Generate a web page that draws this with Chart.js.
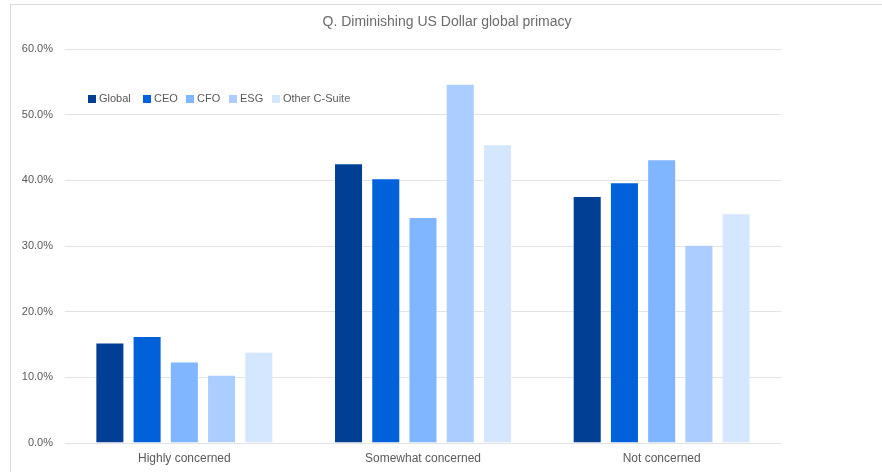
<!DOCTYPE html>
<html>
<head>
<meta charset="utf-8">
<script src="https://cdn.jsdelivr.net/npm/chart.js@4/dist/chart.umd.min.js"></script>
<style>
  html, body { margin: 0; padding: 0; background: #fff; overflow: hidden; }
  #frame { position: absolute; left: 10px; top: 4px; width: 900px; height: 500px; border: 1px solid #d9d9d9; box-sizing: border-box; }
  #wrap { position: absolute; left: 0; top: 0; width: 882px; height: 472px; }
</style>
</head>
<body>
<div id="frame"></div>
<div id="wrap"><canvas id="c" width="882" height="472"></canvas></div>
<script>
const categories = ["Highly concerned", "Somewhat concerned", "Not concerned"];
const seriesNames = ["Global", "CEO", "CFO", "ESG", "Other C-Suite"];
const globalVals = [15.3, 42.6, 37.6];
const ceoVals    = [16.3, 40.3, 39.7];
const cfoVals    = [12.4, 34.4, 43.2];
const esgVals    = [10.4, 54.7, 30.2];
const otherVals  = [13.9, 45.5, 35.0];
const colors = ["#003f94", "#0061db", "#80b5ff", "#abcdff", "#d5e6ff"];
const yTicks = [0, 10, 20, 30, 40, 50, 60];
const titleText = "Q. Diminishing US Dollar global primacy";

const allVals = [globalVals, ceoVals, cfoVals, esgVals, otherVals];
const datasets = seriesNames.map((n, i) => ({
  label: n,
  data: allVals[i],
  backgroundColor: colors[i],
  borderColor: "rgba(255,255,255,0.35)",
  borderWidth: 1,
  categoryPercentage: 0.78,
  barPercentage: 0.78
}));

const FONT = "'Liberation Sans', Arial, sans-serif";
const GREY = "#595959";
const legendX = [88, 143, 186, 229, 272];

const extras = {
  id: "extras",
  afterDraw(chart) {
    const ctx = chart.ctx;
    ctx.save();
    // title
    ctx.font = "14px " + FONT;
    ctx.fillStyle = "#6b6b6b";
    ctx.textAlign = "center";
    ctx.textBaseline = "middle";
    ctx.fillText(titleText, 447, 22);
    // legend
    ctx.font = "11px " + FONT;
    ctx.textAlign = "left";
    const y = 99;
    chart.data.datasets.forEach((ds, i) => {
      const x = legendX[i];
      ctx.fillStyle = ds.backgroundColor;
      ctx.fillRect(x, y - 4, 8, 8);
      ctx.fillStyle = GREY;
      ctx.fillText(ds.label, x + 11, y);
    });
    ctx.restore();
  }
};

new Chart(document.getElementById("c"), {
  type: "bar",
  data: { labels: categories, datasets },
  options: {
    responsive: false,
    animation: false,
    layout: { padding: { left: 0, right: 101, top: 49, bottom: 0 } },
    plugins: {
      legend: { display: false },
      tooltip: { enabled: false },
      title: { display: false }
    },
    scales: {
      x: {
        grid: { display: false, drawTicks: false },
        border: { display: false },
        ticks: { color: GREY, font: { family: FONT, size: 12 }, padding: 8 },
        afterFit(s) { s.height = 29; }
      },
      y: {
        min: 0,
        max: 60,
        afterBuildTicks(s) { s.ticks = yTicks.map(v => ({ value: v })); },
        grid: { color: "#e3e3e3", lineWidth: 1, drawTicks: false },
        border: { display: false },
        ticks: {
          color: GREY,
          font: { family: FONT, size: 11 },
          padding: 12,
          callback: v => v.toFixed(1) + "%"
        },
        afterFit(s) { s.width = 65; }
      }
    }
  },
  plugins: [extras]
});
</script>
</body>
</html>
